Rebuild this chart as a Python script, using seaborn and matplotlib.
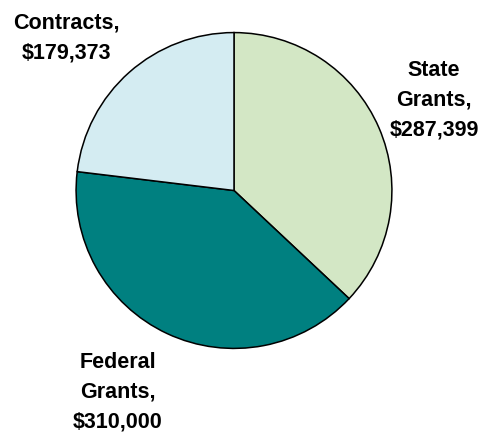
import matplotlib
matplotlib.use("Agg")
import matplotlib.pyplot as plt
import seaborn as sns

sns.set_theme(style="white")
plt.rcParams["font.family"] = ["Liberation Sans", "DejaVu Sans"]

# Funding sources (dollars)
categories = ["State Grants", "Federal Grants", "Contracts"]
values = [287399, 310000, 179373]
colors = ["#D3E7C5", "#008080", "#D4ECF2"]
label_text = ["State\nGrants,\n$287,399", "Federal\nGrants,\n$310,000", "Contracts,\n$179,373"]

W, H = 480, 433
fig = plt.figure(figsize=(W / 100, H / 100), dpi=100)
fig.patch.set_facecolor("white")

cx, cy, r = 234, 190.5, 159.5
ax = fig.add_axes([(cx - r) / W, (H - cy - r) / H, 2 * r / W, 2 * r / H])
ax.pie(values, colors=colors, startangle=90, counterclock=False,
       wedgeprops=dict(edgecolor="black", linewidth=1.1), radius=1.0)
ax.set_xlim(-1.01, 1.01)
ax.set_ylim(-1.01, 1.01)
ax.axis("off")

# label anchor points (pixel centres of each text block)
label_pos = {"State Grants": (434, 100), "Federal Grants": (118, 392), "Contracts": (66, 38)}
for cat, txt in zip(categories, label_text):
    px, py = label_pos[cat]
    fig.text(px / W, 1 - py / H, txt, ha="center", va="center",
             fontsize=15.5, fontweight="bold", color="black", linespacing=1.55)

fig.savefig("out.png", dpi=100, facecolor="white")
